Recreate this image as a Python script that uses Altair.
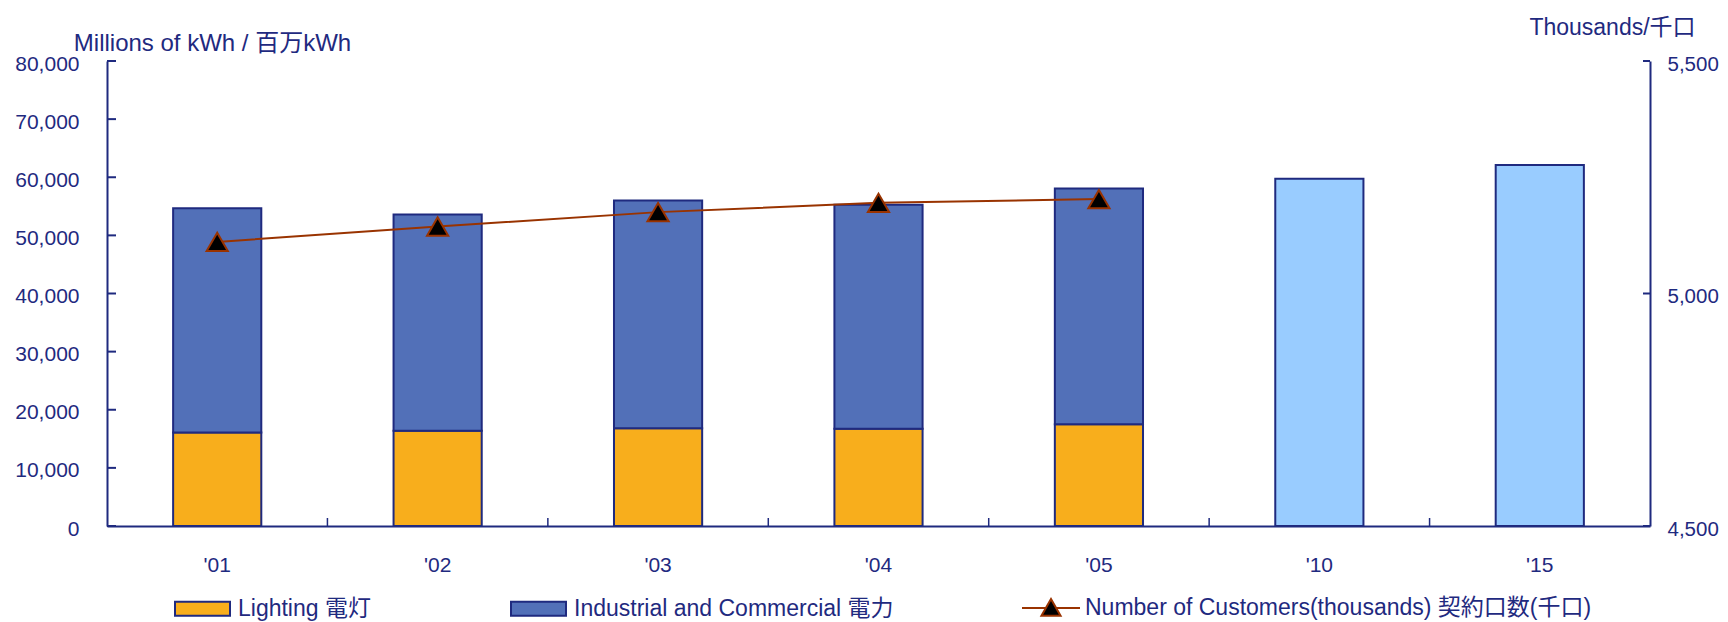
import altair as alt
import pandas as pd

# ---------------- data ----------------
years = ["'01", "'02", "'03", "'04", "'05", "'10", "'15"]
lighting = [16100, 16400, 16800, 16750, 17500]          # '01-'05
industrial = [38550, 37200, 39200, 38500, 40550]        # '01-'05
forecast = [59750, 62100]                                # '10, '15
customers = [5111, 5144, 5175, 5195, 5203]              # thousands, '01-'05
left_ticks = [0, 10000, 20000, 30000, 40000, 50000, 60000, 70000, 80000]
right_ticks = [4500, 5000, 5500]

S_LIGHT = "Lighting 電灯"
S_IND = "Industrial and Commercial 電力"
S_FC = "Forecast"
S_CUST = "Number of Customers(thousands) 契約口数(千口)"

# ---------------- styles ----------------
NAVY = "#1F2A7F"
ORANGE = "#F8AE1C"
BLUE = "#5270B8"
LIGHTBLUE = "#99CCFF"
BROWN = "#993300"
FONT = "Liberation Sans, Noto Sans CJK JP, sans-serif"
W, H = 1543, 465
STEP = W / 7.0

RECT_PATH = "M-1,-0.2545H1V0.2545H-1Z"
LINE_TRI_PATH = "M-1,0L-0.176,0M0.176,0L1,0M0,-0.31L0.33,0.27L-0.33,0.27Z"

rows = []
for i, y in enumerate(years[:5]):
    rows.append({"year": y, "series": S_LIGHT, "value": lighting[i], "ord": 0})
    rows.append({"year": y, "series": S_IND, "value": industrial[i], "ord": 1})
for y, v in zip(years[5:], forecast):
    rows.append({"year": y, "series": S_FC, "value": v, "ord": 0})
bars_df = pd.DataFrame(rows)

line_df = pd.DataFrame({"year": years[:5], "cust": customers,
                        "series": [S_CUST] * 5, "marker": ["triangle"] * 5})
lt_df = pd.DataFrame({"t": left_ticks})
rt_df = pd.DataFrame({"t": right_ticks})
xt_df = pd.DataFrame({"year": years[:6]})

xscale = alt.Scale(domain=years, paddingInner=0.6, paddingOuter=0.3)
lscale = alt.Scale(domain=[0, 80000], nice=False, zero=True)
rscale = alt.Scale(domain=[4500, 5500], nice=False, zero=False)

x_axis = alt.Axis(title=None, labelAngle=0, ticks=False, domainColor=NAVY,
                  domainWidth=2, labelFontSize=21, labelColor=NAVY, labelFont=FONT,
                  labelPadding=28, grid=False)

left_axis = alt.Axis(values=left_ticks, format=",d", title="Millions of kWh / 百万kWh",
                     titleAngle=0, titleX=105, titleY=-11, titleAlign="center",
                     titleBaseline="alphabetic", titleFontSize=24, titleFontWeight="normal",
                     titleColor=NAVY, titleFont=FONT,
                     ticks=False, labelPadding=28, labelOffset=3,
                     labelFontSize=21, labelColor=NAVY, labelFont=FONT,
                     grid=False, domainColor=NAVY, domainWidth=2)

right_axis = alt.Axis(orient="right", values=right_ticks, format=",d", title="Thousands/千口",
                      titleAngle=0, titleX=-38, titleY=-27, titleAlign="center",
                      titleBaseline="alphabetic", titleFontSize=23, titleFontWeight="normal",
                      titleColor=NAVY, titleFont=FONT,
                      ticks=False, labelPadding=17, labelOffset=3,
                      labelFontSize=20.5, labelColor=NAVY, labelFont=FONT,
                      grid=False, domainColor=NAVY, domainWidth=2)


def xenc():
    return alt.X("year:N", scale=xscale, axis=x_axis, sort=years)


bars = alt.Chart(bars_df).mark_bar(stroke=NAVY, strokeWidth=2).encode(
    x=xenc(),
    y=alt.Y("value:Q", stack="zero", scale=lscale, axis=left_axis),
    fill=alt.Fill("series:N", scale=alt.Scale(domain=[S_LIGHT, S_IND, S_FC],
                                              range=[ORANGE, BLUE, LIGHTBLUE]),
                  legend=alt.Legend(title=None, orient="none", legendX=67, legendY=519,
                                    direction="horizontal", values=[S_LIGHT, S_IND],
                                    symbolType=RECT_PATH, symbolSize=3025,
                                    symbolStrokeWidth=2, symbolStrokeColor=NAVY,
                                    labelFontSize=23, labelColor=NAVY, labelFont=FONT,
                                    labelOffset=7, labelLimit=800, columnPadding=136)),
    order=alt.Order("ord:Q", sort="ascending"),
)

left_tick_marks = alt.Chart(lt_df).mark_rule(color=NAVY, strokeWidth=2).encode(
    y=alt.Y("t:Q", scale=lscale, axis=None),
    x=alt.value(0), x2=alt.value(9),
)

x_tick_marks = alt.Chart(xt_df).mark_rule(color=NAVY, strokeWidth=1.5, xOffset=STEP / 2).encode(
    x=xenc(),
    y=alt.value(H), y2=alt.value(H - 8),
)

line = alt.Chart(line_df).mark_line(color=BROWN, strokeWidth=2).encode(
    x=xenc(),
    y=alt.Y("cust:Q", scale=rscale, axis=right_axis),
)

points = alt.Chart(line_df).mark_point(filled=True, fill="black", stroke=BROWN, strokeWidth=2,
                                       size=450, opacity=1).encode(
    x=xenc(),
    y=alt.Y("cust:Q", scale=rscale, axis=None),
    shape=alt.Shape("marker:N", scale=alt.Scale(range=["triangle-up"]), legend=None),
    stroke=alt.Stroke("series:N", scale=alt.Scale(range=[BROWN]),
                      legend=alt.Legend(title=None, orient="none", legendX=914, legendY=517,
                                        symbolType=LINE_TRI_PATH, symbolSize=3364,
                                        symbolStrokeWidth=2, symbolFillColor="black",
                                        labelFontSize=23, labelColor=NAVY, labelFont=FONT,
                                        labelOffset=4, labelLimit=900)),
)

right_tick_marks = alt.Chart(rt_df).mark_rule(color=NAVY, strokeWidth=2).encode(
    y=alt.Y("t:Q", scale=rscale, axis=None),
    x=alt.value(W), x2=alt.value(W - 7),
)

chart = alt.layer(bars, left_tick_marks, x_tick_marks, line, points, right_tick_marks
                  ).resolve_scale(y="independent").properties(
    width=W, height=H,
    padding={"left": 99, "top": 53, "right": 70, "bottom": 97},
    autosize=alt.AutoSizeParams(type="none"),
).configure(font=FONT).configure_view(strokeWidth=0)

chart.save("out.html", embed_options={"renderer": "svg", "actions": False})
